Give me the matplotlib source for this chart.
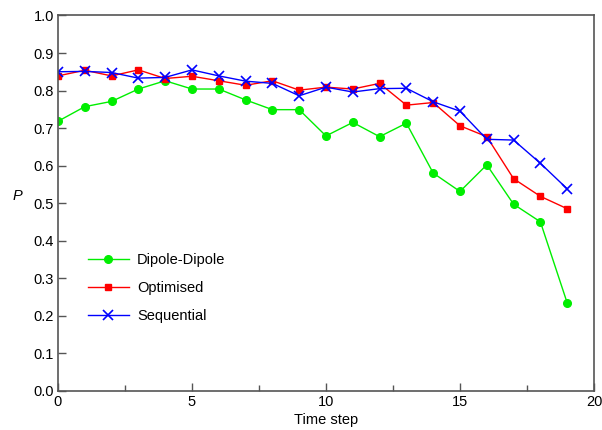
import numpy as np
import matplotlib
matplotlib.use("Agg")
import matplotlib.pyplot as plt
from matplotlib.ticker import MultipleLocator

plt.rcParams['font.family'] = ['Liberation Sans', 'DejaVu Sans']

# Data
steps = np.arange(20)
dipole = [0.718, 0.757, 0.771, 0.804, 0.826, 0.804, 0.804, 0.775, 0.749, 0.749,
          0.679, 0.715, 0.677, 0.713, 0.580, 0.531, 0.602, 0.497, 0.450, 0.234]
optimised = [0.839, 0.854, 0.839, 0.855, 0.832, 0.838, 0.826, 0.814, 0.826, 0.801,
             0.809, 0.804, 0.819, 0.761, 0.768, 0.706, 0.677, 0.565, 0.518, 0.485]
sequential = [0.850, 0.851, 0.848, 0.833, 0.835, 0.855, 0.839, 0.825, 0.819, 0.786,
              0.809, 0.796, 0.805, 0.806, 0.770, 0.745, 0.670, 0.668, 0.606, 0.538]

fig = plt.figure(figsize=(6.02, 4.30), dpi=100)
ax = fig.add_axes([0.0963, 0.0914, 0.8904, 0.8726])

ax.plot(steps, dipole, color='#00ee00', lw=1.0, marker='o', ms=5.5, label='Dipole-Dipole')
ax.plot(steps, optimised, color='#ff0000', lw=1.0, marker='s', ms=4.8, label='Optimised')
ax.plot(steps, sequential, color='#0000ff', lw=1.0, marker='x', ms=6.5, mew=1.2, label='Sequential')

ax.set_xlim(0, 20)
ax.set_ylim(0, 1.0)
ax.xaxis.set_major_locator(MultipleLocator(5))
ax.xaxis.set_minor_locator(MultipleLocator(2.5))
ax.yaxis.set_major_locator(MultipleLocator(0.1))
ax.yaxis.set_major_formatter(plt.FormatStrFormatter('%.1f'))

frame = '#555555'
for s in ax.spines.values():
    s.set_color(frame)
    s.set_linewidth(1.2)
ax.tick_params(which='both', direction='in', color=frame, width=1.0, labelsize=10.5, pad=3)
ax.tick_params(which='major', length=6)
ax.tick_params(which='minor', length=4)

ax.set_xlabel('Time step', fontsize=10.5, labelpad=3)
ax.set_ylabel('P', fontsize=10.5, style='italic', rotation=0)
ax.yaxis.set_label_coords(-0.075, 0.5)

ax.legend(loc='center left', bbox_to_anchor=(0.056, 0.274), frameon=False, fontsize=10.5,
          handlelength=2.8, handletextpad=0.55, labelspacing=0.95,
          borderpad=0, borderaxespad=0)

fig.savefig('out.png', dpi=100)
